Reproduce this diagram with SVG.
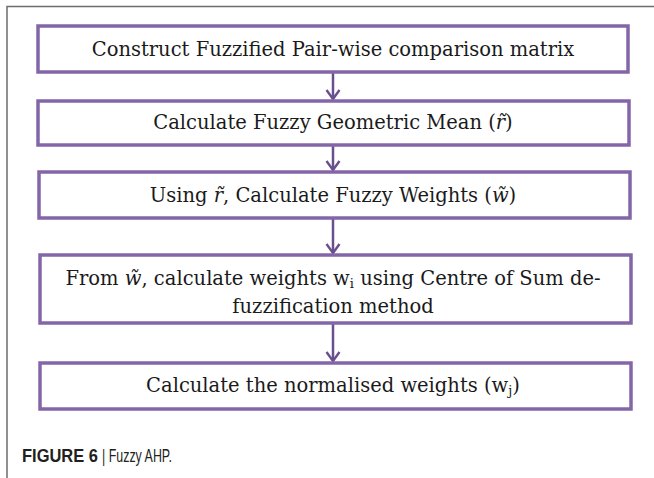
<svg xmlns="http://www.w3.org/2000/svg" width="654" height="478" viewBox="0 0 654 478">
<defs>
<style>
.frame{fill:none;stroke:#6e6e6e;stroke-width:1.5}
.box{fill:#ffffff;stroke:#8466a8;stroke-width:3.5}
.lbl{font-family:"DejaVu Serif","Liberation Serif",serif;font-size:19.5px;fill:#1a1a1a;text-anchor:middle}
.m{font-style:italic}
.edge{fill:none;stroke:#6a4f8f;stroke-width:2.5}
.cap{font-family:"Liberation Sans",Arial,sans-serif;font-size:19px;fill:#231f20}
</style>
<marker id="vee" viewBox="0 0 12 16" refX="10" refY="8" markerWidth="12" markerHeight="16" markerUnits="userSpaceOnUse" orient="auto">
<path d="M1,1.5 L10,8 L1,14.5" fill="none" stroke="#6a4f8f" stroke-width="2.4"/>
</marker>
</defs>
<rect width="654" height="478" fill="#ffffff"/>
<path class="frame" d="M7,478 V6.5 H654"/>
<g id="connectors">
<line class="edge" x1="333" y1="73" x2="333" y2="99" marker-end="url(#vee)"/>
<line class="edge" x1="333" y1="146" x2="333" y2="170" marker-end="url(#vee)"/>
<line class="edge" x1="333" y1="219" x2="333" y2="253" marker-end="url(#vee)"/>
<line class="edge" x1="333" y1="324" x2="333" y2="361" marker-end="url(#vee)"/>
</g>
<g id="n1">
<rect class="box" x="38" y="26" width="590" height="46"/>
<text class="lbl" x="333" y="56">Construct Fuzzified Pair-wise comparison matrix</text>
</g>
<g id="n2">
<rect class="box" x="38" y="101" width="591" height="44"/>
<text class="lbl" x="333" y="129">Calculate Fuzzy Geometric Mean (<tspan class="m">r̃</tspan>)</text>
</g>
<g id="n3">
<rect class="box" x="39" y="172" width="591" height="46"/>
<text class="lbl" x="333" y="202">Using <tspan class="m">r̃</tspan>, Calculate Fuzzy Weights (<tspan class="m">w̃</tspan>)</text>
</g>
<g id="n4">
<rect class="box" x="40" y="255" width="591" height="68"/>
<text class="lbl" x="333" y="285">From <tspan class="m">w̃</tspan>, calculate weights w<tspan font-size="13" dy="3">i</tspan><tspan dy="-3"> using Centre of Sum de-</tspan></text>
<text class="lbl" x="333" y="313">fuzzification method</text>
</g>
<g id="n5">
<rect class="box" x="40" y="363" width="591" height="46"/>
<text class="lbl" x="333" y="392">Calculate the normalised weights (w<tspan font-size="13" dy="3">j</tspan><tspan dy="-3">)</tspan></text>
</g>
<g id="caption">
<text class="cap" x="22" y="462" font-weight="bold" textLength="76" lengthAdjust="spacingAndGlyphs">FIGURE 6</text>
<text class="cap" x="102" y="462" textLength="70" lengthAdjust="spacingAndGlyphs">| Fuzzy AHP.</text>
</g>
</svg>
